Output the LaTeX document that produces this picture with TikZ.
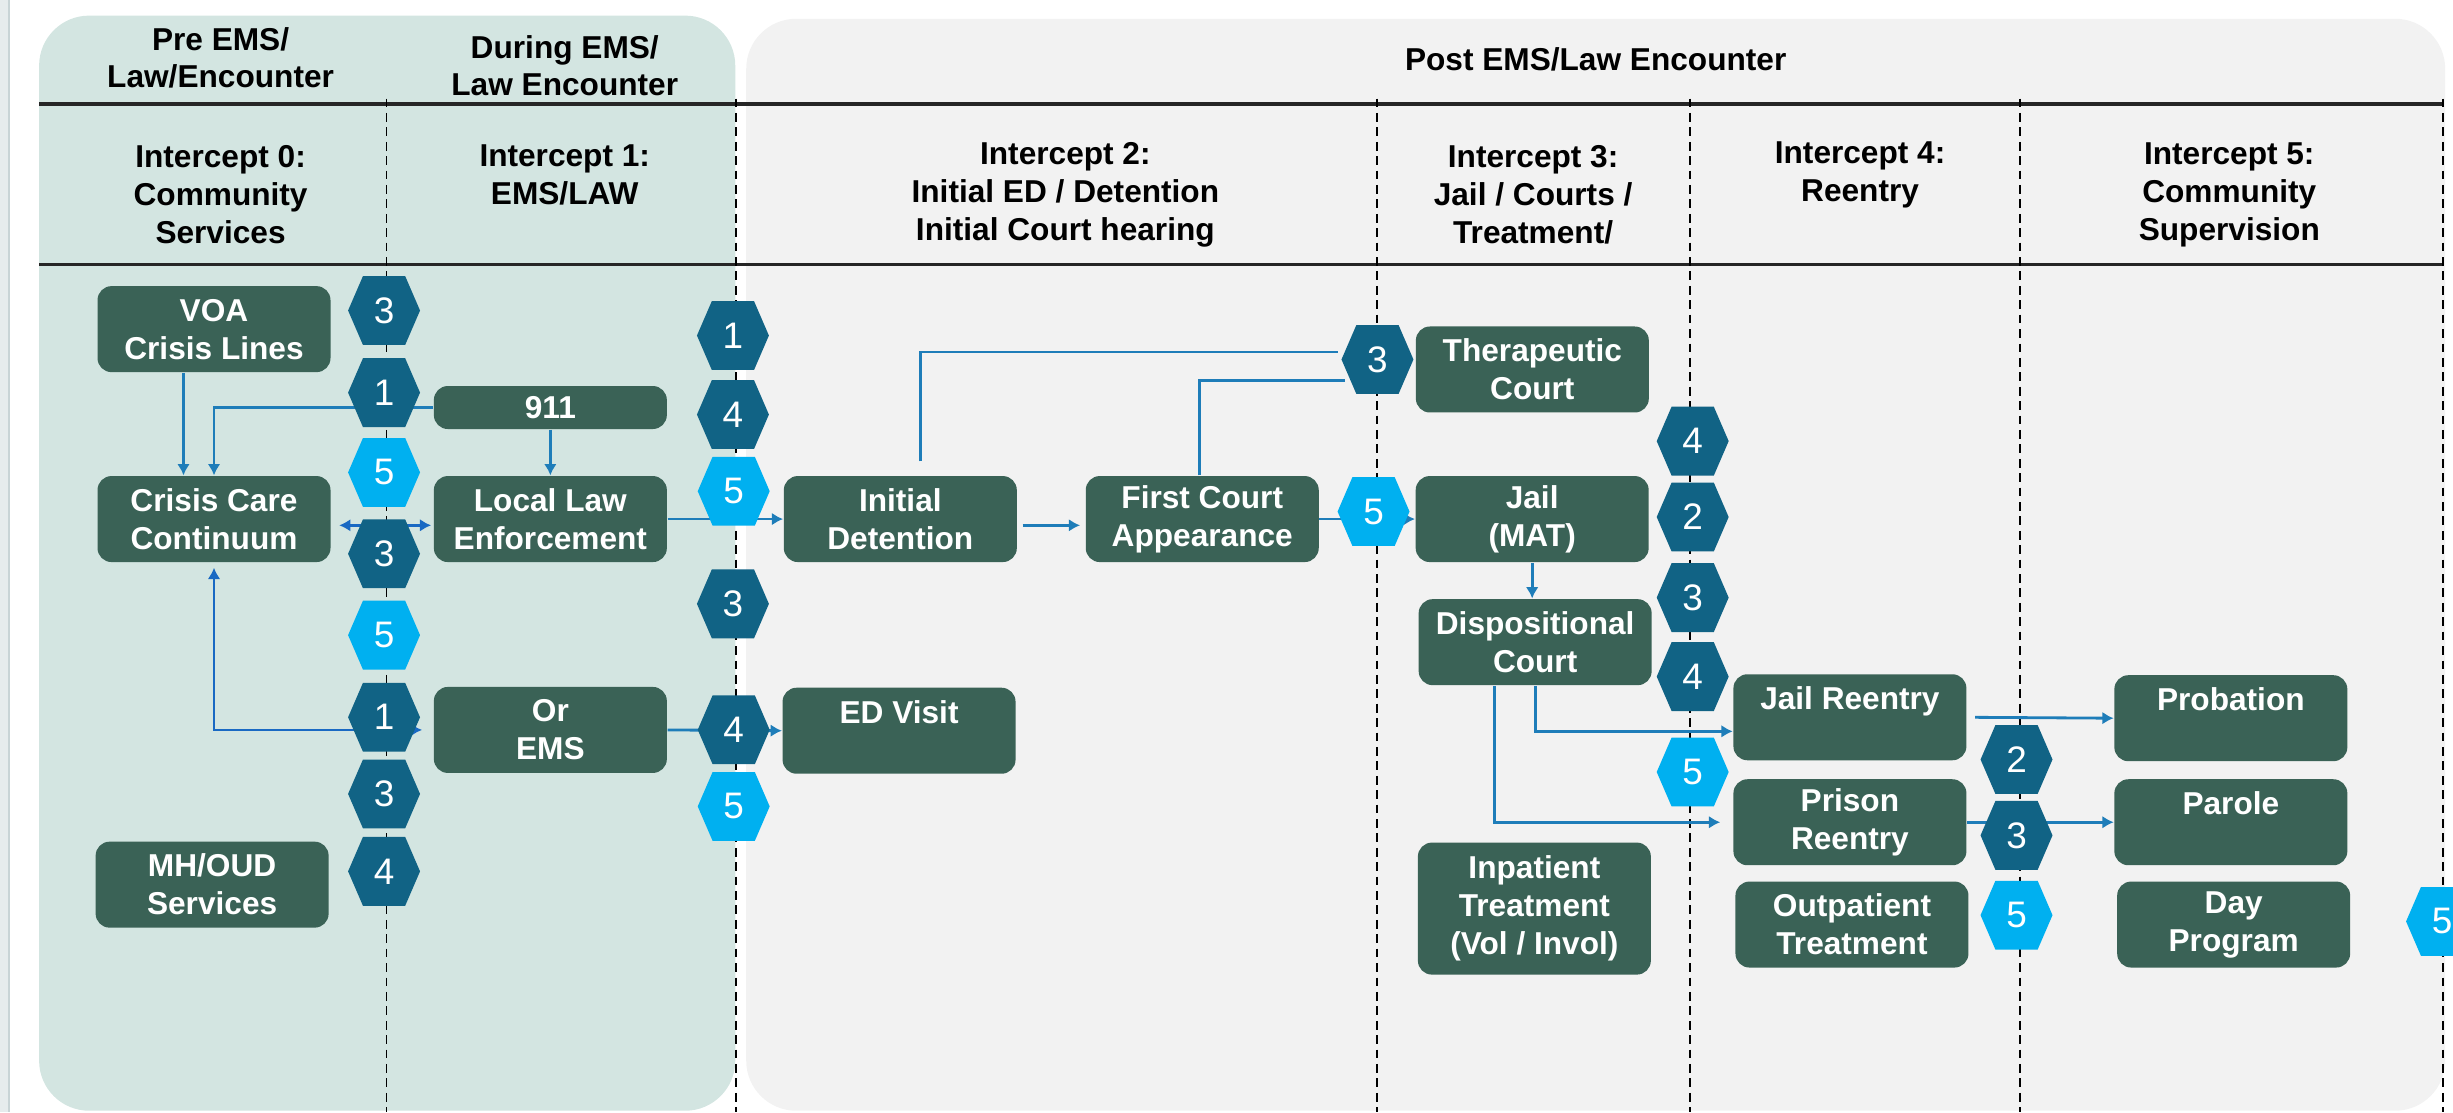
\documentclass[tikz,border=0pt]{standalone}
\usepackage{fontspec}
\setmainfont{Liberation Sans}
\usetikzlibrary{arrows.meta, positioning, calc}
\definecolor{leftpanel}{RGB}{211,229,225}
\definecolor{rightpanel}{RGB}{242,242,242}
\definecolor{boxgreen}{RGB}{58,98,86}
\definecolor{hexdark}{RGB}{17,99,133}
\definecolor{hexlight}{RGB}{0,176,240}
\definecolor{flowblue}{RGB}{30,125,185}
\definecolor{flowdeep}{RGB}{25,105,195}
\definecolor{stripgray}{RGB}{230,236,237}
\definecolor{stripline}{RGB}{200,212,214}
\tikzset{
  headtext/.style={
    align=center, inner sep=0pt,
    font=\fontsize{9}{10.8}\selectfont\bfseries
  },
  servicebox/.style={
    rectangle, rounded corners=1.4mm, fill=boxgreen, text=white,
    minimum width=23.3mm, minimum height=8.6mm, inner sep=1pt,
    align=center, font=\fontsize{9}{10.8}\selectfont\bfseries
  },
  hexnum/.style={
    inner sep=0pt, text=white, minimum width=7.2mm, minimum height=6.9mm,
    font=\fontsize{10.5}{12}\selectfont
  },
  rule/.style={line width=0.9pt, draw=black!85},
  divider/.style={line width=0.5pt, dash pattern=on 2.5pt off 1.6pt},
  flow/.style={
    ->, >={Latex[length=3.2pt,width=3.6pt]}, line width=0.8pt, draw=flowblue
  },
  deepflow/.style={flow, draw=flowdeep}
}
% hexagon marker: name, centre, colour, number
\newcommand{\hexmark}[4]{%
  \fill[#3] ($(#2)+(-23,0)$) -- ++(9.5,-22) -- ++(27,0) -- ++(9.5,22)
    -- ++(-9.5,22) -- ++(-27,0) -- cycle;
  \node[hexnum] (#1) at (#2) {#4};
}

\begin{document}
\begin{tikzpicture}[x=0.15645mm, y=-0.15645mm]
  \useasboundingbox (0,0) rectangle (1568,711);
  \clip (0,0) rectangle (1568,711);

  % panels
  \fill[stripgray] (0,0) rectangle (5,711);
  \draw[stripline, line width=0.6pt] (6,0) -- (6,711);
  \fill[leftpanel, rounded corners=5mm] (25,10) rectangle (470,710);
  \fill[rightpanel, rounded corners=5mm] (477,12) rectangle (1563,710);

  % header rules and intercept dividers
  \draw[rule] (25,66.5) -- (1562,66.5);
  \draw[rule] (25,169) -- (1562,169);
  \draw[divider] (247,63) -- (247,711) (470.5,63) -- (470.5,711)
    (880.3,63) -- (880.3,711) (1080.5,63) -- (1080.5,711)
    (1291,63) -- (1291,711) (1561.6,63) -- (1561.6,711);

  % headers
  \node[headtext] (preenc) at (141,37) {Pre EMS/\\Law/Encounter};
  \node[headtext] (durenc) at (361,42) {During EMS/\\Law Encounter};
  \node[headtext] (postenc) at (1020,38) {Post EMS/Law Encounter};
  \node[headtext] (icpt0) at (141,124.5) {Intercept 0:\\Community\\Services};
  \node[headtext] (icpt1) at (361,112) {Intercept 1:\\EMS/LAW};
  \node[headtext] (icpt2) at (681,124.5) {Intercept 2:\\Initial ED / Detention\\Initial Court hearing};
  \node[headtext] (icpt3) at (980,124.5) {Intercept 3:\\Jail / Courts /\\Treatment/};
  \node[headtext] (icpt4) at (1189,112) {Intercept 4:\\Reentry};
  \node[headtext] (icpt5) at (1425,124.5) {Intercept 5:\\Community\\Supervision};

  % service boxes
  \node[servicebox] (voa) at (136.8,210.4) {VOA\\Crisis Lines};
  \node[servicebox, minimum height=4.3mm] (c911) at (351.8,260.5) {911};
  \node[servicebox] (ccc) at (136.8,331.8) {Crisis Care\\Continuum};
  \node[servicebox] (lle) at (351.8,331.8) {Local Law\\Enforcement};
  \node[servicebox] (ems) at (351.8,466.6) {Or\\EMS};
  \node[servicebox] (mhoud) at (135.6,565.5) {MH/OUD\\Services};
  \node[servicebox] (idet) at (575.5,331.8) {Initial\\Detention};
  \node[servicebox] (fca) at (768.5,331.8) {First Court\\Appearance};
  \node[servicebox] (edv) at (574.7,467.1) {ED Visit\\\phantom{X}};
  \node[servicebox] (ther) at (979.5,236.2) {Therapeutic\\Court};
  \node[servicebox] (jail) at (979.4,331.8) {Jail\\(MAT)};
  \node[servicebox] (disp) at (981.3,410.5) {Dispositional\\Court};
  \node[servicebox, minimum height=13.2mm] (inpat) at (980.8,580.8) {Inpatient\\Treatment\\(Vol / Invol)};
  \node[servicebox] (jre) at (1182.5,458.5) {Jail Reentry\\\phantom{X}};
  \node[servicebox] (pre) at (1182.5,525.6) {Prison\\Reentry};
  \node[servicebox] (outp) at (1183.8,591) {Outpatient\\Treatment};
  \node[servicebox] (prob) at (1426,459.1) {Probation\\\phantom{X}};
  \node[servicebox] (parole) at (1426,525.6) {Parole\\\phantom{X}};
  \node[servicebox] (dayp) at (1427.8,591) {Day\\Program};

  % connectors
  \draw[flow] ($(voa.south)+(-19.5,0)$) -- ($(ccc.north)+(-19.5,0)$);
  \draw[flow] (c911.west) -| (ccc.north);
  \draw[flow] (c911.south) -- (lle.north);
  \draw[deepflow, <->, shorten <=0.8mm, shorten >=0.2mm] ($(ccc.east)+(0,4)$) -- ($(lle.west)+(0,4)$);
  \draw[deepflow, <->, shorten <=0.5mm, shorten >=1.1mm] (ccc.south) |- (ems.west);
  \draw[flow] (lle.east) -- (idet.west);
  \draw[flow, shorten <=0.5mm, shorten >=0.5mm] ($(idet.east)+(0,4)$) -- ($(fca.west)+(0,4)$);
  \draw[flow] (ems.east) -- (edv.west);
  \draw[flow] (fca.east) -- (jail.west);
  \draw[flow] (jail.south) -- (jail.south |- disp.north);
  \draw[flow] (disp.south) |- ($(jre.west)+(0,9)$);
  \draw[flow] ($(disp.south)+(-26,0)$) |- ($(pre.west)+(-8,0)$);
  \draw[flow, shorten <=0.8mm] (jre.east) -- (prob.west);
  \draw[flow] (pre.east) -- (parole.west);

  % intercept markers
  \hexmark{hxa}{245.5,198.5}{hexdark}{3}
  \hexmark{hxb}{245.5,251}{hexdark}{1}
  \hexmark{hxc}{245.5,302}{hexlight}{5}
  \hexmark{hxd}{245.5,354}{hexdark}{3}
  \hexmark{hxe}{245.5,406}{hexlight}{5}
  \hexmark{hxf}{245.5,458.5}{hexdark}{1}
  \hexmark{hxg}{245.5,507.5}{hexdark}{3}
  \hexmark{hxh}{245.5,557}{hexdark}{4}
  \hexmark{hya}{468.5,214.5}{hexdark}{1}
  \hexmark{hyb}{468.5,265}{hexdark}{4}
  \hexmark{hyc}{469,314}{hexlight}{5}
  \hexmark{hyd}{468.5,386}{hexdark}{3}
  \hexmark{hye}{469,466.5}{hexdark}{4}
  \hexmark{hyf}{469,515.5}{hexlight}{5}
  \draw[flow, -] ($(idet.north)+(13,-9)$) |- (855,225);
  \draw[flow, -] ($(fca.north)+(-2,0)$) |- (860,243);
  \hexmark{ther3}{880.5,229.8}{hexdark}{3}
  \hexmark{hzb}{878,327}{hexlight}{5}
  \hexmark{hqa}{1082,282}{hexdark}{4}
  \hexmark{hqb}{1082,330.5}{hexdark}{2}
  \hexmark{hqc}{1082,382}{hexdark}{3}
  \hexmark{hqd}{1082,432.5}{hexdark}{4}
  \hexmark{hqe}{1082,493.5}{hexlight}{5}
  \hexmark{hra}{1289,485.5}{hexdark}{2}
  \hexmark{hrb}{1289,534}{hexdark}{3}
  \hexmark{hrc}{1289,585}{hexlight}{5}
  \hexmark{hsa}{1561,589}{hexlight}{5}
\end{tikzpicture}
\end{document}
